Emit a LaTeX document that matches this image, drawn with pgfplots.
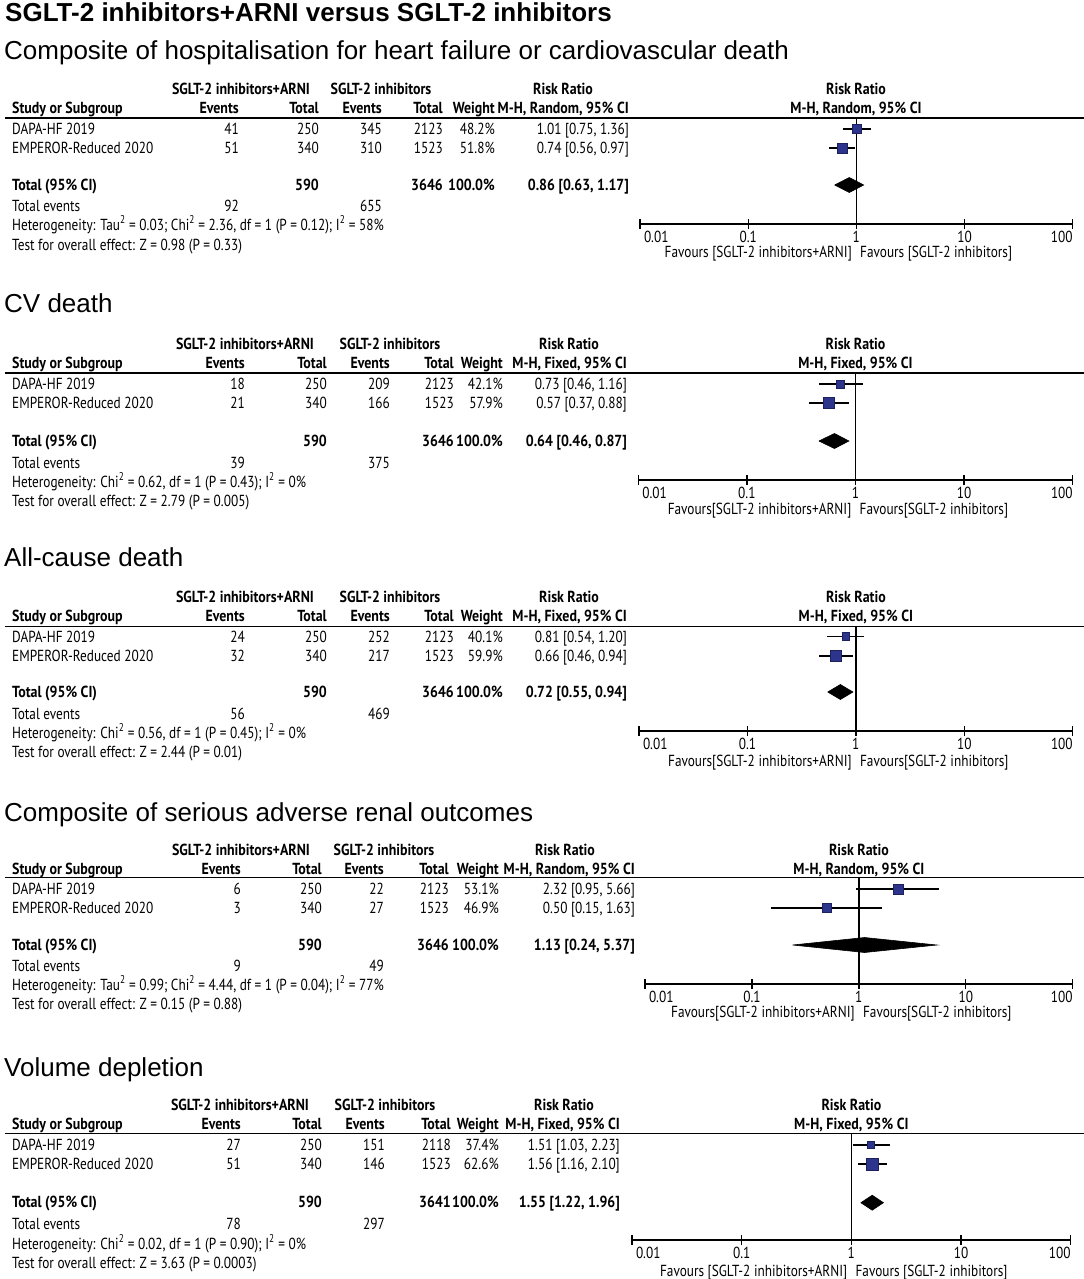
\documentclass[border=0pt]{standalone}
\usepackage{pgfplots}
\pgfplotsset{compat=1.18}
\usepackage{fontspec}
\setmainfont{Liberation Sans}
\newfontfamily\tabR{PT Sans}[FakeStretch=0.83]
\newfontfamily\tabB{PT Sans}[FakeStretch=0.87]
\definecolor{sqfill}{RGB}{44,52,140}
\definecolor{sqdraw}{RGB}{28,32,92}
\newcommand\TF{\tabR\fontsize{16bp}{19bp}\selectfont}
\newcommand\TFB{\tabB\bfseries\fontsize{16bp}{19bp}\selectfont}
\newcommand\TT{\fontsize{26bp}{30bp}\selectfont}
\tikzset{tx/.style={inner sep=0pt, font=\TF}, tb/.style={inner sep=0pt, font=\TFB}}
\newcommand\setcols[9]{\def\cA{#1}\def\cB{#2}\def\cC{#3}\def\cD{#4}\def\cE{#5}\def\cF{#6}\def\hA{#7}\def\hB{#8}\def\hC{#9}}
\newcommand\header[3]{%
 \node[tb,anchor=base] at (\hA,#1) {SGLT-2 inhibitors+ARNI};
 \node[tb,anchor=base] at (\hB,#1) {SGLT-2 inhibitors};
 \node[tb,anchor=base] at (\hC,#1) {Risk Ratio};
 \node[tb,anchor=base west] at (12,#2) {Study or Subgroup};
 \node[tb,anchor=base east] at (\cA,#2) {Events};
 \node[tb,anchor=base east] at (\cB,#2) {Total};
 \node[tb,anchor=base east] at (\cC,#2) {Events};
 \node[tb,anchor=base east] at (\cD,#2) {Total};
 \node[tb,anchor=base east] at (\cE,#2) {Weight};
 \node[tb,anchor=base east] at (\cF,#2) {M-H, #3, 95\% CI};}
\newcommand\srow[8]{%
 \node[tx,anchor=base west] at (12,#1) {#2};
 \node[tx,anchor=base east] at (\cA,#1) {#3};
 \node[tx,anchor=base east] at (\cB,#1) {#4};
 \node[tx,anchor=base east] at (\cC,#1) {#5};
 \node[tx,anchor=base east] at (\cD,#1) {#6};
 \node[tx,anchor=base east] at (\cE,#1) {#7\%};
 \node[tx,anchor=base east] at (\cF,#1) {#8};}
\newcommand\totrow[4]{%
 \node[tb,anchor=base west] at (12,#1) {Total (95\% CI)};
 \node[tb,anchor=base east] at (\cB,#1) {#2};
 \node[tb,anchor=base east] at (\cD,#1) {#3};
 \node[tb,anchor=base east] at (\cE,#1) {100.0\%};
 \node[tb,anchor=base east] at (\cF,#1) {#4};}
\newcommand\evrow[3]{%
 \node[tx,anchor=base west] at (12,#1) {Total events};
 \node[tx,anchor=base east] at (\cA,#1) {#2};
 \node[tx,anchor=base east] at (\cC,#1) {#3};}
\newcommand\rhead[4]{%
 \node[tb,anchor=base] at (#1,#2) {Risk Ratio};
 \node[tb,anchor=base] at (#1,#3) {M-H, #4, 95\% CI};}
\newcommand\favs[4]{%
 \node[tx,anchor=base east] at (#1-4,#2) {#3};
 \node[tx,anchor=base west] at (#1+4,#2) {#4};}
\newcommand\TLa{\makebox[0pt][l]{\hspace{4bp}0.01}}
\newcommand\TLb{\makebox[0pt][r]{100}}
\begin{document}
\begin{tikzpicture}
\path[use as bounding box] (0,0) rectangle (1084bp,-1279bp);
\begin{scope}[x=1bp,y=-1bp]
\node[anchor=base west, inner sep=0pt, font=\TT\bfseries] at (5,21) {SGLT-2 inhibitors+ARNI versus SGLT-2 inhibitors};
% ---------- Panel 1
\node[anchor=base west, inner sep=0pt, font=\TT] at (4,59) {Composite of hospitalisation for heart failure or cardiovascular death};
\setcols{239}{319}{382}{443}{495}{629}{241}{381}{563}
\header{94}{113}{Random}
\draw[line width=1.3bp] (5,118) -- (1084,118);
\srow{134}{DAPA-HF 2019}{41}{250}{345}{2123}{48.2}{1.01 [0.75, 1.36]}
\srow{153}{EMPEROR-Reduced 2020}{51}{340}{310}{1523}{51.8}{0.74 [0.56, 0.97]}
\totrow{190}{590}{3646}{0.86 [0.63, 1.17]}
\evrow{211}{92}{655}
\node[tx,anchor=base west] at (12,230) {Heterogeneity: Tau\textsuperscript{2} = 0.03; Chi\textsuperscript{2} = 2.36, df = 1 (P = 0.12); I\textsuperscript{2} = 58\%};
\node[tx,anchor=base west] at (12,250) {Test for overall effect: Z = 0.98 (P = 0.33)};
\rhead{856}{94}{113}{Random}
\favs{856}{257}{Favours [SGLT-2 inhibitors+ARNI]}{Favours [SGLT-2 inhibitors]}
% ---------- Panel 2
\node[anchor=base west, inner sep=0pt, font=\TT] at (4,312) {CV death};
\setcols{245}{327}{390}{454}{503}{627}{245}{390}{569}
\header{349}{368}{Fixed}
\draw[line width=1.3bp] (5,373) -- (1084,373);
\srow{389}{DAPA-HF 2019}{18}{250}{209}{2123}{42.1}{0.73 [0.46, 1.16]}
\srow{408}{EMPEROR-Reduced 2020}{21}{340}{166}{1523}{57.9}{0.57 [0.37, 0.88]}
\totrow{446}{590}{3646}{0.64 [0.46, 0.87]}
\evrow{468}{39}{375}
\node[tx,anchor=base west] at (12,487) {Heterogeneity: Chi\textsuperscript{2} = 0.62, df = 1 (P = 0.43); I\textsuperscript{2} = 0\%};
\node[tx,anchor=base west] at (12,506) {Test for overall effect: Z = 2.79 (P = 0.005)};
\rhead{855.5}{349}{368}{Fixed}
\favs{855.5}{514}{Favours[SGLT-2 inhibitors+ARNI]}{Favours[SGLT-2 inhibitors]}
% ---------- Panel 3
\node[anchor=base west, inner sep=0pt, font=\TT] at (4,566) {All-cause death};
\setcols{245}{327}{390}{454}{503}{627}{245}{390}{569}
\header{602}{621}{Fixed}
\draw[line width=1.3bp] (5,626.7) -- (1084,626.7);
\srow{642}{DAPA-HF 2019}{24}{250}{252}{2123}{40.1}{0.81 [0.54, 1.20]}
\srow{661}{EMPEROR-Reduced 2020}{32}{340}{217}{1523}{59.9}{0.66 [0.46, 0.94]}
\totrow{697}{590}{3646}{0.72 [0.55, 0.94]}
\evrow{719}{56}{469}
\node[tx,anchor=base west] at (12,738) {Heterogeneity: Chi\textsuperscript{2} = 0.56, df = 1 (P = 0.45); I\textsuperscript{2} = 0\%};
\node[tx,anchor=base west] at (12,757) {Test for overall effect: Z = 2.44 (P = 0.01)};
\rhead{855.9}{602}{621}{Fixed}
\favs{855.9}{766}{Favours[SGLT-2 inhibitors+ARNI]}{Favours[SGLT-2 inhibitors]}
% ---------- Panel 4
\node[anchor=base west, inner sep=0pt, font=\TT] at (4,821) {Composite of serious adverse renal outcomes};
\setcols{241}{322}{384}{449}{499}{635}{241}{384}{565}
\header{855}{874}{Random}
\draw[line width=1.3bp] (5,877.7) -- (1084,877.7);
\srow{894}{DAPA-HF 2019}{6}{250}{22}{2123}{53.1}{2.32 [0.95, 5.66]}
\srow{913}{EMPEROR-Reduced 2020}{3}{340}{27}{1523}{46.9}{0.50 [0.15, 1.63]}
\totrow{950}{590}{3646}{1.13 [0.24, 5.37]}
\evrow{971}{9}{49}
\node[tx,anchor=base west] at (12,990) {Heterogeneity: Tau\textsuperscript{2} = 0.99; Chi\textsuperscript{2} = 4.44, df = 1 (P = 0.04); I\textsuperscript{2} = 77\%};
\node[tx,anchor=base west] at (12,1009) {Test for overall effect: Z = 0.15 (P = 0.88)};
\rhead{858.9}{855}{874}{Random}
\favs{858.9}{1017}{Favours[SGLT-2 inhibitors+ARNI]}{Favours[SGLT-2 inhibitors]}
% ---------- Panel 5
\node[anchor=base west, inner sep=0pt, font=\TT] at (4,1076) {Volume depletion};
\setcols{241}{322}{385}{451}{499}{620}{240}{385}{564}
\header{1110}{1129}{Fixed}
\draw[line width=1.3bp] (5,1133.3) -- (1084,1133.3);
\srow{1150}{DAPA-HF 2019}{27}{250}{151}{2118}{37.4}{1.51 [1.03, 2.23]}
\srow{1169}{EMPEROR-Reduced 2020}{51}{340}{146}{1523}{62.6}{1.56 [1.16, 2.10]}
\totrow{1207.7}{590}{3641}{1.55 [1.22, 1.96]}
\evrow{1229}{78}{297}
\node[tx,anchor=base west] at (12,1249) {Heterogeneity: Chi\textsuperscript{2} = 0.02, df = 1 (P = 0.90); I\textsuperscript{2} = 0\%};
\node[tx,anchor=base west] at (12,1268) {Test for overall effect: Z = 3.63 (P = 0.0003)};
\rhead{851.4}{1110}{1129}{Fixed}
\favs{851.4}{1276}{Favours [SGLT-2 inhibitors+ARNI]}{Favours [SGLT-2 inhibitors]}
\end{scope}
% ================= axes
\begin{axis}[xmode=log, xmin=0.01, xmax=100, ymin=0, ymax=106,
 scale only axis, width=432.7bp, height=106bp, at={(640bp,-224bp)}, anchor=south west,
 axis x line*=bottom, axis y line=none, x axis line style={-, line width=1.3bp},
 xtick={0.01,0.1,1,10,100}, xticklabels={\TLa,0.1,1,10,\TLb}, xminorticks=false,
 major tick length=10bp, tick align=center, xtick style={line width=1.3bp, black},
 xticklabel style={font=\TF, inner sep=0pt, anchor=north, yshift=-2bp}, clip=false]
\addplot[line width=1.3bp, black, no marks] coordinates {(1,0) (1,106)};
\addplot[line width=1.3bp, black, no marks] coordinates {(0.75,95) (1.36,95)};
\addplot[only marks, mark=square*, mark options={fill=sqfill, draw=sqdraw, line width=0.8bp}, mark size=4.6bp] coordinates {(1.01,95)};
\addplot[line width=1.3bp, black, no marks] coordinates {(0.56,76) (0.97,76)};
\addplot[only marks, mark=square*, mark options={fill=sqfill, draw=sqdraw, line width=0.8bp}, mark size=4.9bp] coordinates {(0.74,76)};
\addplot[fill=black, draw=black, line width=0.6bp, no marks] coordinates {(0.63,39) (0.86,46.5) (1.17,39) (0.86,31.5) (0.63,39)};
\end{axis}
\begin{axis}[xmode=log, xmin=0.01, xmax=100, ymin=0, ymax=107,
 scale only axis, width=434.4bp, height=107bp, at={(638.3bp,-480bp)}, anchor=south west,
 axis x line*=bottom, axis y line=none, x axis line style={-, line width=1.3bp},
 xtick={0.01,0.1,1,10,100}, xticklabels={\TLa,0.1,1,10,\TLb}, xminorticks=false,
 major tick length=10bp, tick align=center, xtick style={line width=1.3bp, black},
 xticklabel style={font=\TF, inner sep=0pt, anchor=north, yshift=-2bp}, clip=false]
\addplot[line width=1.3bp, black, no marks] coordinates {(1,0) (1,107)};
\addplot[line width=1.3bp, black, no marks] coordinates {(0.46,96) (1.16,96)};
\addplot[only marks, mark=square*, mark options={fill=sqfill, draw=sqdraw, line width=0.8bp}, mark size=4.0bp] coordinates {(0.73,96)};
\addplot[line width=1.3bp, black, no marks] coordinates {(0.37,77) (0.88,77)};
\addplot[only marks, mark=square*, mark options={fill=sqfill, draw=sqdraw, line width=0.8bp}, mark size=5.5bp] coordinates {(0.57,77)};
\addplot[fill=black, draw=black, line width=0.6bp, no marks] coordinates {(0.46,39) (0.64,46.5) (0.87,39) (0.64,31.5) (0.46,39)};
\end{axis}
\begin{axis}[xmode=log, xmin=0.01, xmax=100, ymin=0, ymax=104.3,
 scale only axis, width=433.7bp, height=104.3bp, at={(639bp,-731bp)}, anchor=south west,
 axis x line*=bottom, axis y line=none, x axis line style={-, line width=1.3bp},
 xtick={0.01,0.1,1,10,100}, xticklabels={\TLa,0.1,1,10,\TLb}, xminorticks=false,
 major tick length=10bp, tick align=center, xtick style={line width=1.3bp, black},
 xticklabel style={font=\TF, inner sep=0pt, anchor=north, yshift=-2bp}, clip=false]
\addplot[line width=1.3bp, black, no marks] coordinates {(1,0) (1,104.3)};
\addplot[line width=1.3bp, black, no marks] coordinates {(0.54,94.3) (1.20,94.3)};
\addplot[only marks, mark=square*, mark options={fill=sqfill, draw=sqdraw, line width=0.8bp}, mark size=3.9bp] coordinates {(0.81,94.3)};
\addplot[line width=1.3bp, black, no marks] coordinates {(0.46,75) (0.94,75)};
\addplot[only marks, mark=square*, mark options={fill=sqfill, draw=sqdraw, line width=0.8bp}, mark size=5.6bp] coordinates {(0.66,75)};
\addplot[fill=black, draw=black, line width=0.6bp, no marks] coordinates {(0.55,39) (0.72,46.5) (0.94,39) (0.72,31.5) (0.55,39)};
\end{axis}
\begin{axis}[xmode=log, xmin=0.01, xmax=100, ymin=0, ymax=106.3,
 scale only axis, width=427.7bp, height=106.3bp, at={(645bp,-984bp)}, anchor=south west,
 axis x line*=bottom, axis y line=none, x axis line style={-, line width=1.3bp},
 xtick={0.01,0.1,1,10,100}, xticklabels={\TLa,0.1,1,10,\TLb}, xminorticks=false,
 major tick length=10bp, tick align=center, xtick style={line width=1.3bp, black},
 xticklabel style={font=\TF, inner sep=0pt, anchor=north, yshift=-2bp}, clip=false]
\addplot[line width=1.3bp, black, no marks] coordinates {(1,0) (1,106.3)};
\addplot[line width=1.3bp, black, no marks] coordinates {(0.95,95) (5.66,95)};
\addplot[only marks, mark=square*, mark options={fill=sqfill, draw=sqdraw, line width=0.8bp}, mark size=5.0bp] coordinates {(2.32,95)};
\addplot[line width=1.3bp, black, no marks] coordinates {(0.15,76) (1.63,76)};
\addplot[only marks, mark=square*, mark options={fill=sqfill, draw=sqdraw, line width=0.8bp}, mark size=4.5bp] coordinates {(0.50,76)};
\addplot[fill=black, draw=black, line width=0.6bp, no marks] coordinates {(0.24,39) (1.13,46.5) (5.37,39) (1.13,31.5) (0.24,39)};
\end{axis}
\begin{axis}[xmode=log, xmin=0.01, xmax=100, ymin=0, ymax=106.7,
 scale only axis, width=438.7bp, height=106.7bp, at={(632bp,-1240bp)}, anchor=south west,
 axis x line*=bottom, axis y line=none, x axis line style={-, line width=1.3bp},
 xtick={0.01,0.1,1,10,100}, xticklabels={\TLa,0.1,1,10,\TLb}, xminorticks=false,
 major tick length=10bp, tick align=center, xtick style={line width=1.3bp, black},
 xticklabel style={font=\TF, inner sep=0pt, anchor=north, yshift=-2bp}, clip=false]
\addplot[line width=1.3bp, black, no marks] coordinates {(1,0) (1,106.7)};
\addplot[line width=1.3bp, black, no marks] coordinates {(1.03,95) (2.23,95)};
\addplot[only marks, mark=square*, mark options={fill=sqfill, draw=sqdraw, line width=0.8bp}, mark size=3.6bp] coordinates {(1.51,95)};
\addplot[line width=1.3bp, black, no marks] coordinates {(1.16,76) (2.10,76)};
\addplot[only marks, mark=square*, mark options={fill=sqfill, draw=sqdraw, line width=0.8bp}, mark size=5.9bp] coordinates {(1.56,76)};
\addplot[fill=black, draw=black, line width=0.6bp, no marks] coordinates {(1.22,37.3) (1.55,44.8) (1.96,37.3) (1.55,29.8) (1.22,37.3)};
\end{axis}
\end{tikzpicture}
\end{document}
